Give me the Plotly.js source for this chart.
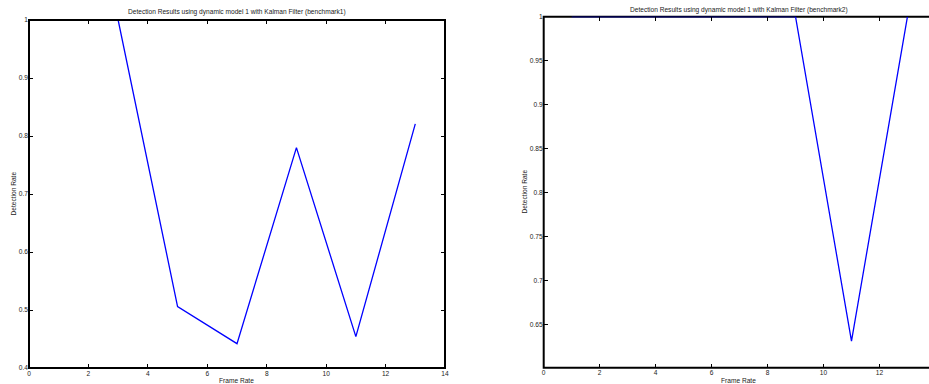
<!DOCTYPE html>
<html><head><meta charset="utf-8">
<script src="https://cdn.plot.ly/plotly-3.0.1.min.js"></script>
<style>html,body{margin:0;padding:0;background:#fff}#plot{width:929px;height:384px}</style>
</head><body><div id="plot"></div>
<script>
// Data
const frameRate1 = [3, 5, 7, 9, 11, 13];
const detection1 = [1, 0.506, 0.442, 0.78, 0.454, 0.821];
const frameRate2 = [1, 3, 5, 7, 9, 11, 13];
const detection2 = [1, 1, 1, 1, 1, 0.631, 1];
const xTicks1 = [0, 2, 4, 6, 8, 10, 12, 14];
const yTicks1 = [0.4, 0.5, 0.6, 0.7, 0.8, 0.9, 1];
const xTicks2 = [0, 2, 4, 6, 8, 10, 12];
const yTicks2 = [0.65, 0.7, 0.75, 0.8, 0.85, 0.9, 0.95, 1];
const title1 = 'Detection Results using dynamic model 1 with Kalman Filter (benchmark1)';
const title2 = 'Detection Results using dynamic model 1 with Kalman Filter (benchmark2)';

const font = {family: 'Liberation Sans, Arial, sans-serif', size: 6.6, color: '#222'};
const lineStyle = {color: '#0000ff', width: 1.3};

const traces = [
  {x: frameRate1, y: detection1, mode: 'lines', line: lineStyle, xaxis: 'x', yaxis: 'y', hoverinfo: 'none'},
  {x: frameRate2, y: detection2, mode: 'lines', line: lineStyle, xaxis: 'x2', yaxis: 'y2', hoverinfo: 'none'}
];

const axBase = {
  showline: false, showgrid: false, zeroline: false,
  ticks: 'inside', ticklen: 4, tickwidth: 1, tickcolor: '#000', tickfont: font, fixedrange: true
};

const L = {x0: 29/929, x1: 445/929, y0: 16/384, y1: 364/384};
const R = {x0: 543.7/929, x1: 1, y0: 16.3/384, y1: 367.3/384};
const boxLine = {color: '#000', width: 2};

const layout = {
  width: 929, height: 384,
  margin: {l: 0, r: 0, t: 0, b: 0},
  paper_bgcolor: '#fff', plot_bgcolor: 'rgba(0,0,0,0)',
  showlegend: false,
  xaxis: Object.assign({}, axBase, {domain: [L.x0, L.x1], range: [0, 14], tickvals: xTicks1, ticktext: xTicks1.map(String), mirror: 'ticks', anchor: 'y'}),
  yaxis: Object.assign({}, axBase, {domain: [L.y0, L.y1], range: [0.4, 1], tickvals: yTicks1, ticktext: yTicks1.map(String), mirror: 'ticks', anchor: 'x'}),
  xaxis2: Object.assign({}, axBase, {domain: [R.x0, R.x1], range: [0, 13.77], tickvals: xTicks2, ticktext: xTicks2.map(String), mirror: 'ticks', anchor: 'y2'}),
  yaxis2: Object.assign({}, axBase, {domain: [R.y0, R.y1], range: [0.6007, 1], tickvals: yTicks2, ticktext: yTicks2.map(String), mirror: false, anchor: 'x2'}),
  shapes: [
    {type: 'rect', xref: 'paper', yref: 'paper', x0: L.x0, x1: L.x1, y0: L.y0, y1: L.y1, line: boxLine, layer: 'above'},
    {type: 'rect', xref: 'paper', yref: 'paper', x0: R.x0, x1: 1.02, y0: R.y0, y1: R.y1, line: boxLine, layer: 'below'}
  ],
  annotations: [
    {text: title1, xref: 'paper', yref: 'paper', x: 237/929, y: 1 - 12/384, xanchor: 'center', yanchor: 'middle', showarrow: false, font: font},
    {text: title2, xref: 'paper', yref: 'paper', x: 739/929, y: 1 - 10/384, xanchor: 'center', yanchor: 'middle', showarrow: false, font: font},
    {text: 'Frame Rate', xref: 'paper', yref: 'paper', x: 237/929, y: 1 - 380/384, xanchor: 'center', yanchor: 'middle', showarrow: false, font: font},
    {text: 'Frame Rate', xref: 'paper', yref: 'paper', x: 738/929, y: 1 - 380/384, xanchor: 'center', yanchor: 'middle', showarrow: false, font: font},
    {text: 'Detection Rate', xref: 'paper', yref: 'paper', x: 12.5/929, y: 1 - 194/384, xanchor: 'center', yanchor: 'middle', textangle: -90, showarrow: false, font: font},
    {text: 'Detection Rate', xref: 'paper', yref: 'paper', x: 523.5/929, y: 1 - 192/384, xanchor: 'center', yanchor: 'middle', textangle: -90, showarrow: false, font: font}
  ]
};

Plotly.newPlot('plot', traces, layout, {staticPlot: true, displayModeBar: false});
</script>
</body></html>
